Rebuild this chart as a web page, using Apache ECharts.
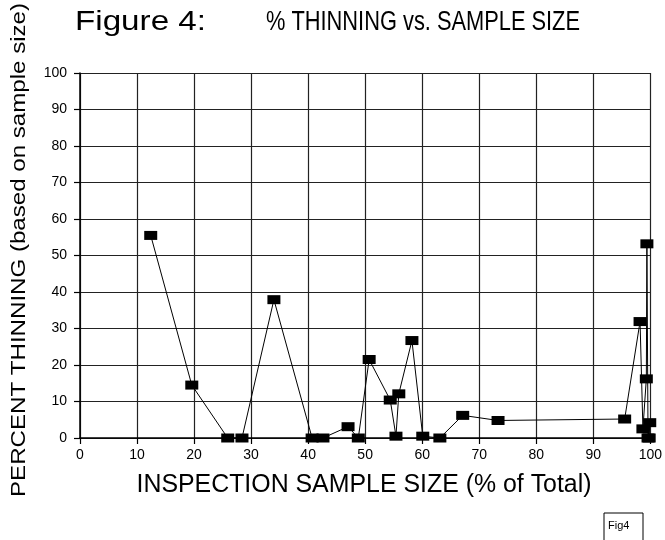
<!DOCTYPE html>
<html><head><meta charset="utf-8">
<script src="https://cdn.jsdelivr.net/npm/echarts@6/dist/echarts.min.js"></script>
<style>html,body{margin:0;padding:0;background:#fff}#c{width:665px;height:540px}</style>
</head><body><div id="c"></div>
<script>
// ---- data ----
const sampleSize = [12.4, 19.6, 25.9, 28.4, 34.0, 40.7, 42.6, 47.0, 48.8, 50.7, 54.4, 55.4, 55.9, 58.2, 60.1, 63.1, 67.1, 73.3, 95.5, 98.2, 98.7, 99.3, 99.4, 99.6, 99.9, 99.8];
const thinning   = [55.5, 14.5, 0.0, 0.0, 37.9, 0.0, 0.0, 3.1, 0.0, 21.5, 10.4, 0.5, 12.1, 26.7, 0.5, 0.0, 6.2, 4.8, 5.2, 31.9, 2.5, 16.2, 53.2, 0.0, 4.2, 0.0];
const xTicks = [0, 10, 20, 30, 40, 50, 60, 70, 80, 90, 100];
const yTicks = [0, 10, 20, 30, 40, 50, 60, 70, 80, 90, 100];
const titleLeft = 'Figure 4:';
const titleRight = '% THINNING vs. SAMPLE SIZE';
const xName = 'INSPECTION SAMPLE SIZE (% of Total)';
const yName = 'PERCENT THINNING (based on sample size)';
const tagText = 'Fig4';

const FONT = '"Liberation Sans", Arial, sans-serif';
const mctx = document.createElement('canvas').getContext('2d');
function fit(text, size, width) {
  mctx.font = size + 'px ' + FONT;
  return width / mctx.measureText(text).width;
}

const chart = echarts.init(document.getElementById('c'), null, {renderer: 'canvas'});
const axisCommon = {
  type: 'value', min: 0, max: 100, interval: 10,
  axisLine: {show: true, onZero: false, lineStyle: {color: '#000', width: 1.5}},
  axisTick: {show: true, inside: false, length: 6, lineStyle: {color: '#000', width: 1.2}},
  splitLine: {show: true, lineStyle: {color: '#222', width: 1.2}},
  axisLabel: {color: '#000', fontSize: 14, fontFamily: FONT}
};
chart.setOption({
  animation: false,
  backgroundColor: '#fff',
  grid: {left: 80, right: 12, top: 73, bottom: 102, containLabel: false},
  xAxis: Object.assign({}, axisCommon, {
    axisLabel: Object.assign({}, axisCommon.axisLabel, {margin: 10, formatter: v => xTicks.includes(v) ? String(v) : ''})
  }),
  yAxis: Object.assign({}, axisCommon, {
    axisLabel: Object.assign({}, axisCommon.axisLabel, {margin: 13, formatter: v => yTicks.includes(v) ? String(v) : ''})
  }),
  series: [{
    type: 'line',
    data: sampleSize.map((x, i) => [x, thinning[i]]),
    symbol: 'rect', symbolSize: [13, 9], showSymbol: true,
    clip: false,
    itemStyle: {color: '#000'},
    lineStyle: {color: '#000', width: 1}
  }],
  graphic: [
    {type: 'text', x: 75, y: 23, scaleX: fit(titleLeft, 27, 131),
     style: {text: titleLeft, fontSize: 27, fontFamily: FONT, fill: '#000', verticalAlign: 'middle', align: 'left'}},
    {type: 'text', x: 266, y: 23, scaleX: fit(titleRight, 27, 314),
     style: {text: titleRight, fontSize: 27, fontFamily: FONT, fill: '#000', verticalAlign: 'middle', align: 'left'}},
    {type: 'text', x: 364, y: 485, scaleX: fit(xName, 26, 455),
     style: {text: xName, fontSize: 26, fontFamily: FONT, fill: '#000', verticalAlign: 'middle', align: 'center'}},
    {type: 'text', x: 19, y: 250, rotation: Math.PI / 2, scaleX: fit(yName, 21, 494),
     style: {text: yName, fontSize: 21, fontFamily: FONT, fill: '#000', verticalAlign: 'middle', align: 'center'}},
    {type: 'rect', shape: {x: 604, y: 513, width: 39, height: 40},
     style: {fill: '#fff', stroke: '#000', lineWidth: 1}},
    {type: 'text', x: 608, y: 526, style: {text: tagText, fontSize: 11, fontFamily: FONT, fill: '#000', verticalAlign: 'middle', align: 'left'}}
  ]
});
</script>
</body></html>
